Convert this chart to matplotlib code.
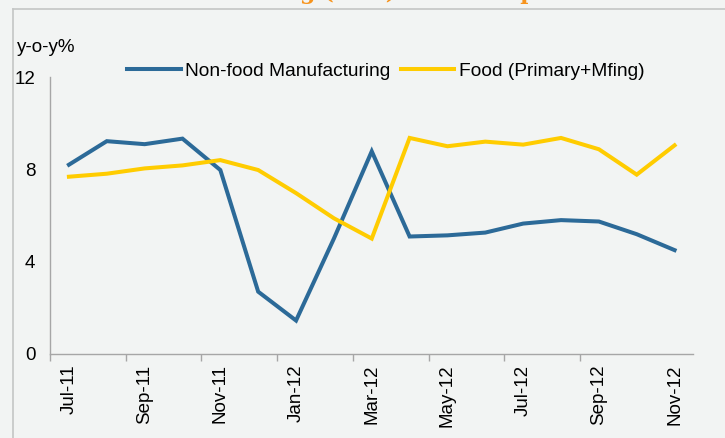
import matplotlib
matplotlib.use("Agg")
import matplotlib.pyplot as plt
from matplotlib.lines import Line2D

plt.rcParams['font.family'] = ['Liberation Sans', 'DejaVu Sans']

months = ["Jul-11", "Aug-11", "Sep-11", "Oct-11", "Nov-11", "Dec-11", "Jan-12", "Feb-12",
          "Mar-12", "Apr-12", "May-12", "Jun-12", "Jul-12", "Aug-12", "Sep-12", "Oct-12", "Nov-12"]
non_food = [8.2, 9.22, 9.09, 9.33, 7.97, 2.70, 1.45, 5.0, 8.78, 5.09, 5.14, 5.26, 5.65, 5.80, 5.74, 5.19, 4.50]
food = [7.68, 7.81, 8.04, 8.17, 8.40, 7.97, 6.97, 5.88, 5.0, 9.36, 9.0, 9.2, 9.07, 9.36, 8.87, 7.77, 9.04]
yticks = [0, 4, 8, 12]

W, H = 725, 438
bg = "#F2F4F3"
FS = 13.5
fig = plt.figure(figsize=(W / 100, H / 100), dpi=100, facecolor=bg)

# frame lines
fig.add_artist(Line2D([12.5 / W, 12.5 / W], [0, 1 - 9 / H], color="#C4C6C5", lw=1.2))
fig.add_artist(Line2D([12.5 / W, 1], [1 - 9 / H, 1 - 9 / H], color="#C4C6C5", lw=1.2))

# clipped title (only descenders visible)
fig.text(0.5, 1 + 1.5 / H, "Manufacturing (WPI) and food prices", ha="center", va="baseline",
         color="#F7941D", fontsize=16, fontweight="bold", family="DejaVu Serif")

ax = fig.add_axes([50 / W, 1 - 354 / H, (693.5 - 50) / W, (354 - 77) / H])
ax.set_facecolor(bg)
x = list(range(len(months)))
ax.plot(x, non_food, color="#2C6A98", lw=2.9, label="Non-food Manufacturing", solid_joinstyle="miter")
ax.plot(x, food, color="#FFCC00", lw=2.9, label="Food (Primary+Mfing)", solid_joinstyle="miter")

ax.set_xlim(-0.5, len(months) - 0.5)
ax.set_ylim(0, 12)
ax.set_yticks(yticks)
ax.set_yticklabels([str(v) for v in yticks], fontsize=FS)
ax.tick_params(axis="y", length=0, pad=10.5)
ax.set_xticks([i - 0.5 for i in range(0, len(months) - 1, 2)])
ax.set_xticklabels([])
ax.set_xticks(list(range(0, len(months), 2)), minor=True)
ax.set_xticklabels(months[::2], minor=True, rotation=90, fontsize=FS)
ax.tick_params(axis="x", which="major", length=5, color="#A6A6A6", width=1)
ax.tick_params(axis="x", which="minor", length=0, pad=7.5)
for s in ["top", "right"]:
    ax.spines[s].set_visible(False)
for s in ["left", "bottom"]:
    ax.spines[s].set_color("#A6A6A6")
    ax.spines[s].set_linewidth(1)

fig.text(17 / W, 1 - 48 / H, "y-o-y%", fontsize=FS, va="center", ha="left")

leg = ax.legend(loc="center left", bbox_to_anchor=(127 / W, 1 - 71 / H), bbox_transform=fig.transFigure,
                ncol=2, frameon=False, fontsize=13.8, handlelength=2.8, handletextpad=0.22,
                columnspacing=0.55, borderaxespad=0, borderpad=0)

fig.savefig("out.png", dpi=100, facecolor=bg)
